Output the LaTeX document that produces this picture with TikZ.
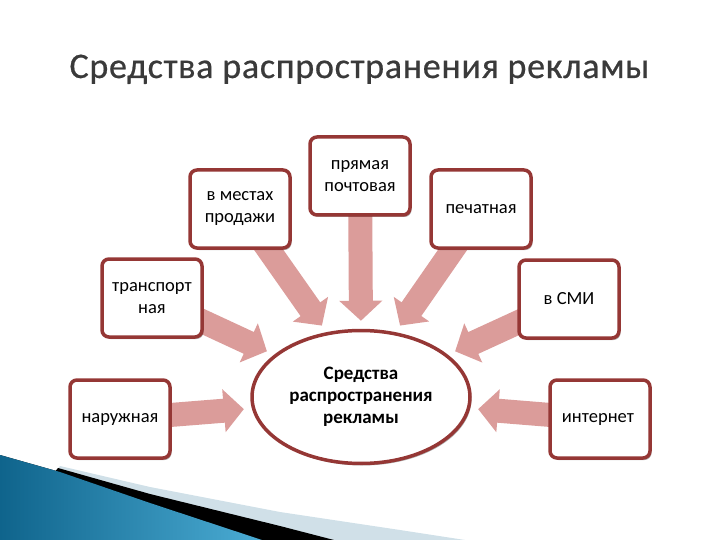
\documentclass[tikz,border=0pt]{standalone}
\usepackage{fontspec}
\setmainfont{Carlito}
\newfontfamily\titlefont[LetterSpace=2,FakeBold=0.6]{Carlito}
\usetikzlibrary{arrows.meta,shapes.geometric,shadows,backgrounds}

\definecolor{boxred}{RGB}{149,55,53}
\definecolor{arrowpink}{RGB}{219,156,154}
\definecolor{titlegray}{RGB}{58,58,58}
\definecolor{waveblue}{RGB}{15,100,140}
\definecolor{wavelight}{RGB}{75,172,212}
\definecolor{waveband}{RGB}{208,224,232}

\tikzset{
    kindbox/.style={draw=boxred, line width=3.5pt, fill=white, rounded corners=7pt,
        minimum width=100pt, minimum height=78pt, align=center,
        font=\fontsize{18.5}{22}\selectfont,
        drop shadow={shadow xshift=1.5pt, shadow yshift=-2pt, opacity=0.3, fill=black}},
    hubell/.style={draw=boxred, line width=3.5pt, fill=white, ellipse,
        minimum width=218pt, minimum height=133pt, inner sep=0pt, align=center,
        font=\fontsize{19}{22}\selectfont\bfseries,
        drop shadow={shadow xshift=1.5pt, shadow yshift=-2pt, opacity=0.3, fill=black}},
    bigarrow/.style={draw=arrowpink, line width=24pt,
        -{Triangle[width=42pt,length=20pt]}, shorten >=8pt}
}

\begin{document}
\begin{tikzpicture}[x=1pt,y=-1pt]
    \useasboundingbox (0,0) rectangle (720,540);

    % Title
    \node[anchor=base west, text=titlegray, font=\titlefont\fontsize{36}{40}\selectfont] (title) at (66,78)
        {Средства распространения рекламы};

    % Kinds of media
    \foreach \name/\x/\y/\txt in {
        nar/120/419/{наружная},
        trans/152/298/{транспорт\\ная},
        mest/240/209/{в местах\\продажи},
        pryam/360/176/{прямая\\почтовая},
        pech/481/209/{печатная},
        smi/569/299/{в СМИ},
        inet/600/419/{интернет}
    } {
        \node[kindbox] (\name) at (\x,\y) {\txt};
    }

    \node[hubell] (hub) at (361,397) {Средства\\распространения\\рекламы};

    % Arrows to the centre
    \begin{scope}[on background layer]
        \foreach \from/\ang in {nar/186, trans/154, mest/118, pryam/90, pech/62, smi/26, inet/-6}
            \draw[bigarrow] (\from.center) -- (hub.\ang);
    \end{scope}

    % Corner wave
    \fill[waveband] (60,466) -- (150,487) -- (280,512) -- (400,530) -- (465,540) -- (0,540) -- cycle;
    \fill[black] (58,468) -- (150,494) -- (280,526) -- (334,540) -- (0,540) -- cycle;
    \fill[left color=waveblue, right color=wavelight] (0,455) -- (60,472) -- (150,503) -- (262,540) -- (0,540) -- cycle;
\end{tikzpicture}
\end{document}
